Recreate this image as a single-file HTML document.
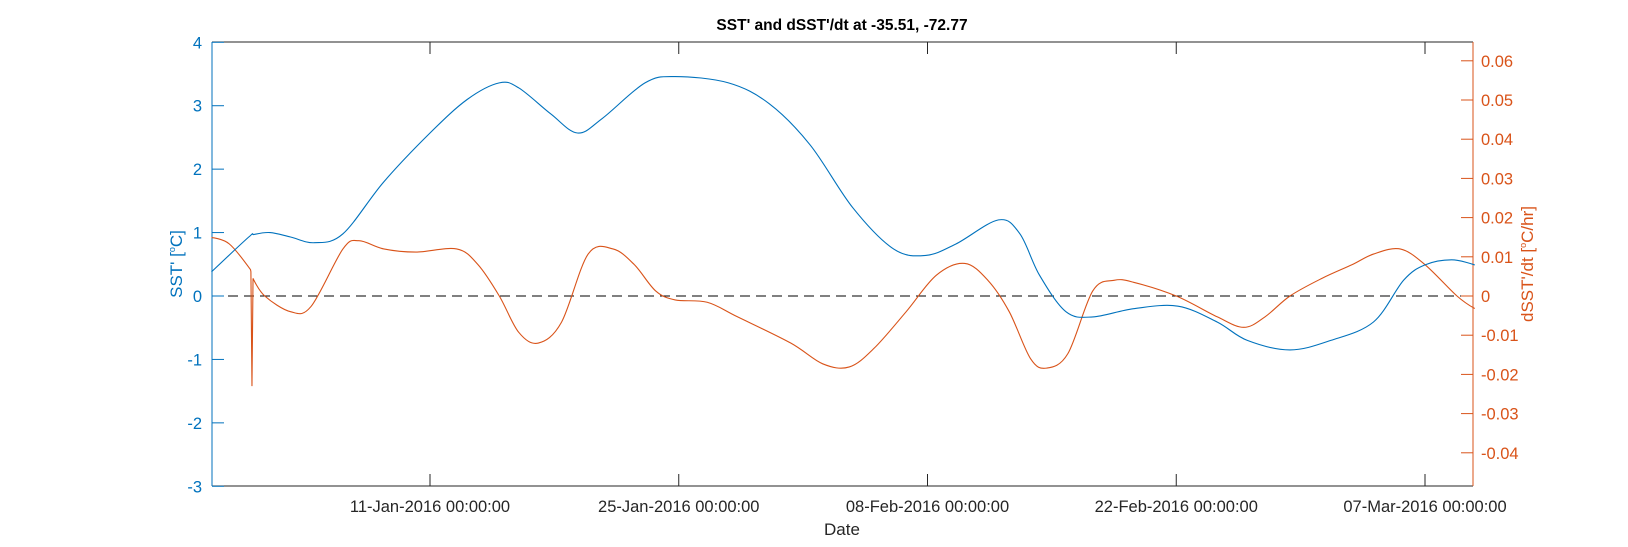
<!DOCTYPE html>
<html><head><meta charset="utf-8"><style>
html,body{margin:0;padding:0;background:#fff;}
svg{display:block;font-family:"Liberation Sans",Arial,sans-serif;}
</style></head><body>
<svg id="chart" width="1628" height="547">
<rect width="1628" height="547" fill="#fff"/>
<text x="842" y="30" text-anchor="middle" font-size="15.5" font-weight="bold" fill="#000">SST' and dSST'/dt at -35.51, -72.77</text>
<g id="plot"></g>
<text x="842" y="535" text-anchor="middle" font-size="17" fill="#262626">Date</text>
<text transform="translate(182,264) rotate(-90)" text-anchor="middle" font-size="17" fill="#0072BD">SST' [<tspan font-size="9" dy="-7">o</tspan><tspan dy="7">C]</tspan></text>
<text transform="translate(1533,264) rotate(-90)" text-anchor="middle" font-size="17" fill="#D95319">dSST'/dt [<tspan font-size="9" dy="-7">o</tspan><tspan dy="7">C/hr]</tspan></text>
</svg>
<script>
const sstDays=[-12.3,-10.2,-9.9,-9.0,-7.85,-6.5,-4.9,-2.6,0,2.1,3.9,5.0,6.8,8.3,9.7,12.1,13.8,16.8,19.1,21.4,23.8,26.1,27.9,29.6,32.0,33.2,34.3,35.8,37.3,39.6,42.1,44.3,46.0,48.4,50.7,53.1,54.8,56.0,57.5,58.8];
const sstVals=[0.38,0.93,0.97,1.0,0.93,0.84,0.98,1.8,2.57,3.1,3.36,3.28,2.87,2.57,2.8,3.36,3.46,3.36,3.03,2.38,1.39,0.74,0.64,0.82,1.2,0.98,0.33,-0.25,-0.33,-0.2,-0.16,-0.41,-0.7,-0.85,-0.7,-0.41,0.25,0.49,0.57,0.49];
const dDays=[-12.3,-11.3,-10.1,-10.08,-10.02,-9.96,-9.3,-7.85,-6.7,-4.9,-4.0,-2.6,-0.8,1.5,2.7,3.9,5.0,6.1,7.4,8.9,10.3,11.5,12.7,13.8,15.6,17.3,20.3,22.1,23.6,25.0,26.8,28.5,30.1,31.4,32.6,33.8,34.7,35.9,37.3,38.5,39.6,42.0,44.3,45.8,47.0,48.4,50.2,51.9,53.1,54.6,56.0,57.8,58.8];
const dVals=[0.0149,0.0133,0.0067,0.0062,-0.023,0.0045,0.0,-0.004,-0.0027,0.012,0.0141,0.012,0.0112,0.012,0.008,0.0,-0.0093,-0.012,-0.0067,0.0107,0.012,0.008,0.0013,-0.001,-0.0016,-0.0053,-0.012,-0.0173,-0.0181,-0.0133,-0.004,0.0053,0.0083,0.004,-0.004,-0.016,-0.0184,-0.0147,0.0013,0.004,0.0035,0.0,-0.0053,-0.008,-0.0053,0.0,0.0045,0.008,0.0107,0.012,0.008,0.0,-0.0032];
const xTickDays=[0,14,28,42,56];
const xTickLabels=["11-Jan-2016 00:00:00","25-Jan-2016 00:00:00","08-Feb-2016 00:00:00","22-Feb-2016 00:00:00","07-Mar-2016 00:00:00"];
const leftTicks=[-3,-2,-1,0,1,2,3,4];
const rightTicks=[-0.04,-0.03,-0.02,-0.01,0,0.01,0.02,0.03,0.04,0.05,0.06];

const L=212,R=1473,T=42,B=486;
const x=d=>430+(d)*(1425-430)/56;
const yL=v=>296-v*(486-42)/7;
const yR=v=>296-v*3920;
const NS="http://www.w3.org/2000/svg";
const g=document.getElementById('plot');
function mk(t,a){const e=document.createElementNS(NS,t);for(const k in a)e.setAttribute(k,a[k]);g.appendChild(e);return e;}
let e;
e=mk('line',{x1:L,y1:T,x2:R,y2:T,stroke:'#262626','stroke-width':1});


e=mk('line',{x1:L,y1:B,x2:R,y2:B,stroke:'#262626','stroke-width':1});


e=mk('line',{x1:L,y1:yL(0),x2:R,y2:yL(0),stroke:'#000','stroke-width':1,'stroke-dasharray':'10,6'});


xTickDays.forEach((d,i)=>{
 e=mk('line',{x1:x(d),y1:B,x2:x(d),y2:B-12,stroke:'#262626'});
 
 
 e=mk('line',{x1:x(d),y1:T,x2:x(d),y2:T+12,stroke:'#262626'});
 
 
 e=mk('text',{x:x(d),y:B+26,'text-anchor':'middle','font-size':16.5,fill:'#262626'});
 e.textContent=xTickLabels[i];
 
 
});
leftTicks.forEach(v=>{
 e=mk('line',{x1:L,y1:yL(v),x2:L+12,y2:yL(v),stroke:'#0072BD'});
 
 
 e=mk('text',{x:L-10,y:yL(v)+6,'text-anchor':'end','font-size':16.5,fill:'#0072BD'});
 e.textContent=String(v);
 
 
});
rightTicks.forEach(v=>{
 e=mk('line',{x1:R,y1:yR(v),x2:R-12,y2:yR(v),stroke:'#D95319'});
 
 
 e=mk('text',{x:R+8,y:yR(v)+6,'text-anchor':'start','font-size':16.5,fill:'#D95319'});
 e.textContent=v===0?'0':v.toFixed(2);
 
 
});
e=mk('line',{x1:L,y1:T,x2:L,y2:B,stroke:'#0072BD','stroke-width':1});


e=mk('line',{x1:R,y1:T,x2:R,y2:B,stroke:'#D95319','stroke-width':1});


function smooth(xs,ys){let p=`M${xs[0]},${ys[0]}`;for(let i=0;i<xs.length-1;i++){const x0=xs[Math.max(i-1,0)],y0=ys[Math.max(i-1,0)],x1=xs[i],y1=ys[i],x2=xs[i+1],y2=ys[i+1],x3=xs[Math.min(i+2,xs.length-1)],y3=ys[Math.min(i+2,xs.length-1)];
 if(Math.abs(x2-x1)<3){p+=` L${x2},${y2}`;continue;}
 const sharp=(a,b)=>Math.abs(a-b)<3;
 const t1x=sharp(x0,x1)?0:(x2-x0)/6,t1y=sharp(x0,x1)?0:(y2-y0)/6,t2x=sharp(x2,x3)?0:(x3-x1)/6,t2y=sharp(x2,x3)?0:(y3-y1)/6;
 p+=` C${x1+t1x},${y1+t1y} ${x2-t2x},${y2-t2y} ${x2},${y2}`;}return p;}
e=mk('path',{d:smooth(dDays.map(x),dVals.map(yR)),fill:'none',stroke:'#D95319','stroke-width':1.1});


e=mk('path',{d:smooth(sstDays.map(x),sstVals.map(yL)),fill:'none',stroke:'#0072BD','stroke-width':1.1});


</script>
</body></html>
